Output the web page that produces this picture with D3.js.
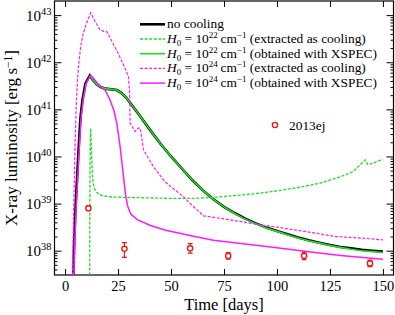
<!DOCTYPE html>
<html>
<head>
<meta charset="utf-8">
<script src="https://cdn.jsdelivr.net/npm/d3@7"></script>
<style>
  body { margin: 0; background: #fff; }
  svg text { font-family: "Liberation Serif", "Times New Roman", serif; fill: #000; }
</style>
</head>
<body>
<div id="chart"></div>
<script>
// [time in days, log10 of X-ray luminosity in erg/s]
const noCooling = [[3.9,37.48],[4.3,38.2],[4.9,38.9],[5.5,39.4],[6.3,40.1],[7.2,40.8],[8.2,41.2],[9.6,41.55],[11.7,41.72],
  [13,41.63],[15,41.53],[17,41.47],[19,41.44],[21,41.43],[24.4,41.41],[26.5,41.35],[29,41.24],[31.5,41.09],[35,40.88],
  [40,40.57],[45,40.27],[50,40.0],[55,39.75],[60,39.5],[65,39.28],[70,39.09],[75,38.93],[80,38.8],[85,38.68],[90,38.58],
  [95,38.49],[100,38.42],[105,38.35],[110,38.28],[115,38.22],[120,38.17],[125,38.12],[130,38.08],[135,38.05],[140,38.02],
  [145,38.0],[150,37.98]];
const greenCooling = [[11.6,37.48],[11.65,38.5],[11.75,39.5],[11.85,40.2],[12.05,40.6],[12.3,40.3],[12.6,39.9],[13.0,39.55],
  [13.5,39.38],[14.3,39.27],[15.5,39.21],[18,39.16],[22,39.14],[30,39.13],[40,39.12],[50,39.11],[60,39.11],[70,39.13],
  [80,39.17],[90,39.21],[100,39.27],[110,39.34],[120,39.43],[130,39.57],[136,39.68],[141.7,39.93],[142.8,39.83],
  [145.5,39.86],[150,39.94]];
const greenXspec = [[11.7,41.72],[13,41.63],[15,41.53],[17,41.47],[19,41.44],[21,41.43],[24.4,41.41],[26.5,41.35],[29,41.24],
  [31.5,41.09],[35,40.88],[40,40.57],[45,40.27],[50,40.0],[55,39.75],[60,39.5],[65,39.28],[70,39.09],[75,38.93],[80,38.79],
  [85,38.67],[90,38.57],[95,38.48],[100,38.41],[105,38.34],[110,38.27],[115,38.21],[120,38.16],[125,38.11],[130,38.07],
  [135,38.03],[140,38.0],[145,37.98],[150,37.96]];
const magentaCooling = [[3.4,37.48],[3.8,38.3],[4.2,39.2],[4.7,40.2],[5.2,41.0],[5.8,41.6],[6.4,41.95],[7.4,42.35],[8.6,42.62],
  [10.3,42.85],[12.1,43.05],[14.2,42.86],[16.5,42.69],[18.5,42.65],[19.7,42.65],[22,42.45],[24.4,42.25],[26.5,42.05],
  [28.3,41.87],[29.9,41.69],[30.4,41.4],[30.7,40.7],[31.5,40.65],[33,40.53],[34.5,40.6],[35.5,40.6],[37,40.14],[41.7,39.78],
  [47.2,39.46],[51,39.32],[55.8,39.15],[60,38.96],[65.3,38.74],[73,38.69],[80,38.64],[92,38.55],[100,38.5],[110,38.43],
  [120,38.36],[128,38.3],[135,38.28],[142,38.26],[150,38.23]];
const magentaXspec = [[4.1,37.48],[4.6,38.2],[5.2,38.9],[5.8,39.4],[6.6,40.1],[7.5,40.8],[8.5,41.2],[9.9,41.55],[12.0,41.72],
  [13,41.68],[15,41.57],[17,41.47],[19,41.4],[21,41.22],[23,40.98],[24.5,40.68],[26,40.2],[27.5,39.6],[28.5,39.2],
  [29.5,38.95],[31,38.78],[34,38.66],[40,38.54],[47,38.44],[60,38.31],[70,38.22],[85,38.14],[100,38.06],[115,37.98],
  [130,37.9],[150,37.82]];

// SN 2013ej observations
const obsDays = [11, 28, 59, 77, 112.8, 143.9];
const obsLog = [38.90, 38.04, 38.05, 37.89, 37.89, 37.73];
const obsLogLo = [38.85, 37.86, 37.95, 37.82, 37.81, 37.66];
const obsLogHi = [38.95, 38.17, 38.15, 37.96, 37.97, 37.80];

const xTicks = [0, 25, 50, 75, 100, 125, 150];
const yDecades = [38, 39, 40, 41, 42, 43];

const width = 395, height = 315;
const m = { left: 54.5, right: 393.5, top: 1, bottom: 275 };

const svg = d3.select("#chart").append("svg")
  .attr("width", width)
  .attr("height", height);

const x = d3.scaleLinear().domain([-5, 155]).range([m.left, m.right]);
const y = d3.scaleLog().domain([Math.pow(10, 37.484), Math.pow(10, 43.3)]).range([m.bottom, m.top]);

svg.append("clipPath").attr("id", "clip")
  .append("rect").attr("x", m.left).attr("y", m.top).attr("width", m.right - m.left).attr("height", m.bottom - m.top);

// y ticks: majors at decades, minors 2..9
const yMajor = yDecades.map(e => Math.pow(10, e));
const yMinor = [];
for (let e = 37; e <= 43; e++) {
  for (let k = 2; k <= 9; k++) {
    const v = k * Math.pow(10, e);
    if (v > y.domain()[0] && v < y.domain()[1]) yMinor.push(v);
  }
}

function styleAxis(g) {
  g.select(".domain").remove();
  g.selectAll(".tick line").attr("stroke", "#000").attr("stroke-width", 1);
}

svg.append("g").attr("transform", `translate(0,${m.bottom})`)
  .call(d3.axisBottom(x).tickValues(xTicks).tickSizeInner(-6).tickSizeOuter(0).tickPadding(6))
  .call(styleAxis)
  .call(g => g.selectAll(".tick text").attr("font-size", 14.5).attr("font-family", "Liberation Serif"));

svg.append("g").attr("transform", `translate(0,${m.top})`)
  .call(d3.axisTop(x).tickValues(xTicks).tickSizeInner(-6).tickSizeOuter(0).tickFormat(""))
  .call(styleAxis);

[["L", m.left, d3.axisLeft], ["R", m.right, d3.axisRight]].forEach(([side, pos, ax]) => {
  svg.append("g").attr("transform", `translate(${pos},0)`)
    .call(ax(y).tickValues(yMinor).tickSizeInner(-3).tickSizeOuter(0).tickFormat(""))
    .call(styleAxis);
  const gM = svg.append("g").attr("transform", `translate(${pos},0)`)
    .call(ax(y).tickValues(yMajor).tickSizeInner(-7).tickSizeOuter(0).tickFormat(""))
    .call(styleAxis);
  if (side === "L") {
    gM.selectAll(".tick text").remove();
    gM.selectAll(".tick").append("text")
      .attr("x", -3).attr("y", 5)
      .attr("text-anchor", "end")
      .attr("font-size", 15)
      .each(function (d) {
        const t = d3.select(this);
        t.append("tspan").text("10");
        t.append("tspan").attr("font-size", 10.5).attr("dy", -6).text(Math.round(Math.log10(d)));
      });
  }
});

svg.append("rect")
  .attr("x", m.left).attr("y", m.top).attr("width", m.right - m.left).attr("height", m.bottom - m.top)
  .attr("fill", "none").attr("stroke", "#000").attr("stroke-width", 1.2);

const line = d3.line().x(d => x(d[0])).y(d => y(Math.pow(10, d[1])));
const plot = svg.append("g").attr("clip-path", "url(#clip)");

const series = [
  { data: noCooling, color: "#000", w: 2.6, dash: null },
  { data: greenCooling, color: "#1fe01f", w: 1.3, dash: "3,1.6" },
  { data: greenXspec, color: "#1fe01f", w: 1.6, dash: null },
  { data: magentaCooling, color: "#ff1aff", w: 1.2, dash: "3,1.6" },
  { data: magentaXspec, color: "#ff1aff", w: 1.5, dash: null }
];
series.forEach(s => {
  plot.append("path").datum(s.data)
    .attr("d", line)
    .attr("fill", "none")
    .attr("stroke", s.color)
    .attr("stroke-width", s.w)
    .attr("stroke-dasharray", s.dash);
});

// observations with error bars
const red = "#f01818";
obsDays.forEach((t, i) => {
  const cx = x(t);
  plot.append("line")
    .attr("x1", cx).attr("x2", cx)
    .attr("y1", y(Math.pow(10, obsLogLo[i]))).attr("y2", y(Math.pow(10, obsLogHi[i])))
    .attr("stroke", red).attr("stroke-width", 1.2);
  [obsLogLo[i], obsLogHi[i]].forEach(v => {
    plot.append("line")
      .attr("x1", cx - 2.5).attr("x2", cx + 2.5)
      .attr("y1", y(Math.pow(10, v))).attr("y2", y(Math.pow(10, v)))
      .attr("stroke", red).attr("stroke-width", 1.2);
  });
  plot.append("circle")
    .attr("cx", cx).attr("cy", y(Math.pow(10, obsLog[i])))
    .attr("r", 2.6).attr("fill", "#fff").attr("stroke", red).attr("stroke-width", 1.4);
});

// legend
const legendRows = [
  { color: "#000", w: 2.6, dash: null, text: "no cooling" },
  { color: "#1fe01f", w: 1.3, dash: "3,1.6", exp: "22", text: "(extracted as cooling)" },
  { color: "#1fe01f", w: 1.6, dash: null, exp: "22", text: "(obtained with XSPEC)" },
  { color: "#ff1aff", w: 1.2, dash: "3,1.6", exp: "24", text: "(extracted as cooling)" },
  { color: "#ff1aff", w: 1.5, dash: null, exp: "24", text: "(obtained with XSPEC)" }
];
const legend = svg.append("g");
legendRows.forEach((r, i) => {
  const ly = 24.3 + i * 14.7;
  legend.append("line")
    .attr("x1", 140).attr("x2", 165).attr("y1", ly).attr("y2", ly)
    .attr("stroke", r.color).attr("stroke-width", r.w).attr("stroke-dasharray", r.dash);
  const t = legend.append("text").attr("x", 167).attr("y", ly + 4).attr("font-size", 13.4);
  if (!r.exp) {
    t.text(r.text);
  } else {
    t.append("tspan").attr("font-style", "italic").text("H");
    t.append("tspan").attr("font-size", 9).attr("dy", 3).text("0");
    t.append("tspan").attr("dy", -3).text(" = 10");
    t.append("tspan").attr("font-size", 9).attr("dy", -5).text(r.exp);
    t.append("tspan").attr("dy", 5).text("\u2009cm");
    t.append("tspan").attr("font-size", 9).attr("dy", -5).text("\u22121");
    t.append("tspan").attr("dy", 5).text(" " + r.text);
  }
});
legend.append("circle").attr("cx", 275).attr("cy", 125).attr("r", 2.6)
  .attr("fill", "#fff").attr("stroke", red).attr("stroke-width", 1.4);
legend.append("text").attr("x", 289).attr("y", 129.5).attr("font-size", 13.4).text("2013ej");

// axis titles
svg.append("text")
  .attr("x", 224).attr("y", 310)
  .attr("text-anchor", "middle").attr("font-size", 16.5)
  .text("Time [days]");

const yl = svg.append("text")
  .attr("transform", `translate(17,138) rotate(-90)`)
  .attr("text-anchor", "middle").attr("font-size", 17);
yl.append("tspan").text("X-ray luminosity [erg\u2009s");
yl.append("tspan").attr("font-size", 11.5).attr("dy", -5.5).text("\u22121");
yl.append("tspan").attr("dy", 5.5).text("]");
</script>
</body>
</html>
